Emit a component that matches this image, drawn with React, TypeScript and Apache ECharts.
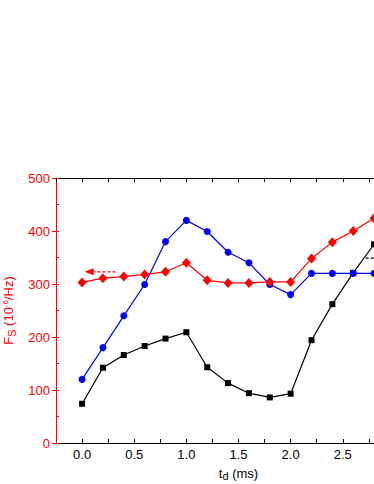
import React, { useEffect, useRef } from "react";
import * as echarts from "echarts";

const tdValues = [0, 0.2, 0.4, 0.6, 0.8, 1.0, 1.2, 1.4, 1.6, 1.8, 2.0, 2.2, 2.4, 2.6, 2.8];
const blackSquares = [74, 142, 166, 183, 197, 209, 143, 113, 94, 86, 93, 194, 262, 321, 375];
const blueCircles = [120, 180, 240, 299, 380, 420, 399, 360, 340, 299, 280, 320, 320, 320, 320];
const redDiamonds = [303, 311, 314, 318, 323, 340, 307, 302, 302, 304, 304, 348, 379, 400, 424];
const redArrow = [[0.32, 323], [0.067, 323]];
const blackArrow = [[2.72, 349], [3.0, 349]];

const pair = (ys: number[]) => tdValues.map((x, i) => [x, ys[i]]);

export default function App() {
  const ref = useRef<HTMLDivElement>(null);
  useEffect(() => {
    if (!ref.current) return;
    const chart = echarts.init(ref.current, undefined, { renderer: "svg" });
    const font = "Liberation Sans, Arial, sans-serif";
    chart.setOption({
      animation: false,
      grid: { left: 56, top: 178, width: 365, height: 265, containLabel: false, outerBoundsMode: "none" },
      xAxis: [
        {
          type: "value",
          min: -0.25,
          max: 3.25,
          interval: 0.25,
          position: "bottom",
          name: "{t|t}{sub|d}{t| (ms)}",
          nameLocation: "middle",
          nameGap: 22,
          nameTextStyle: {
            rich: {
              t: { fontSize: 13, color: "#000", fontFamily: font },
              sub: { fontSize: 11, color: "#000", fontFamily: font, padding: [5, 0, 0, 0] },
            },
          },
          axisLine: { show: true, onZero: false, lineStyle: { color: "#000", width: 1 } },
          axisTick: { show: true, inside: true, length: 4, lineStyle: { color: "#000" } },
          axisLabel: {
            margin: 5,
            fontSize: 13,
            color: "#000",
            fontFamily: font,
            showMinLabel: false,
            showMaxLabel: false,
            formatter: (v: number) => {
              const k = Math.round(v * 4);
              if (k < 0 || k > 11 || k % 2 !== 0) return "";
              return v.toFixed(1);
            },
          },
          splitLine: { show: false },
        },
        {
          type: "value",
          min: -0.25,
          max: 3.25,
          interval: 0.25,
          position: "top",
          axisLine: { show: true, onZero: false, lineStyle: { color: "#000", width: 1 } },
          axisTick: { show: true, inside: true, length: 4, lineStyle: { color: "#000" } },
          axisLabel: { show: false },
          splitLine: { show: false },
        },
      ],
      yAxis: [
        {
          type: "value",
          min: 0,
          max: 500,
          interval: 100,
          position: "left",
          name: "{t|F}{sub|S}{t| (10}{sup|-6}{t|/Hz)}",
          nameLocation: "middle",
          nameGap: 33,
          nameRotate: 90,
          nameTextStyle: {
            rich: {
              t: { fontSize: 13, color: "#ff0000", fontFamily: font },
              sub: { fontSize: 11, color: "#ff0000", fontFamily: font, padding: [6, 0, 0, 0] },
              sup: { fontSize: 8, color: "#ff0000", fontFamily: font, padding: [0, 0, 7, 0] },
            },
          },
          axisLine: { show: true, onZero: false, lineStyle: { color: "#ff0000", width: 1 } },
          axisTick: { show: true, inside: false, length: 4, lineStyle: { color: "#ff0000" } },
          axisLabel: { margin: 6, fontSize: 13, color: "#ff0000", fontFamily: font },
          splitLine: { show: false },
        },
        {
          type: "value",
          min: 0,
          max: 500,
          interval: 50,
          position: "left",
          offset: 0,
          axisLine: { show: false, onZero: false },
          axisTick: { show: true, inside: true, length: 3, lineStyle: { color: "#ff0000" } },
          axisLabel: { show: false },
          splitLine: { show: false },
        },
      ],
      series: [
        {
          type: "line",
          data: pair(blackSquares),
          symbol: "rect",
          symbolSize: 6,
          itemStyle: { color: "#000" },
          lineStyle: { color: "#000", width: 1.2 },
          z: 3,
        },
        {
          type: "line",
          data: pair(blueCircles),
          symbol: "circle",
          symbolSize: 7,
          itemStyle: { color: "#0000ff" },
          lineStyle: { color: "#0000ff", width: 1.2 },
          z: 4,
        },
        {
          type: "line",
          data: pair(redDiamonds),
          symbol: "diamond",
          symbolSize: [9, 10],
          itemStyle: { color: "#ff0000" },
          lineStyle: { color: "#ff0000", width: 1.2 },
          z: 5,
        },
        {
          type: "line",
          data: [
            { value: redArrow[0], symbol: "none" },
            { value: redArrow[1], symbol: "path://M10,0 L0,5 L10,10 Z", symbolSize: [9, 7] },
          ],
          itemStyle: { color: "#ff0000" },
          lineStyle: { color: "#ff0000", width: 1.2, type: [3, 2] },
          z: 6,
        },
        {
          type: "line",
          data: [
            { value: blackArrow[0], symbol: "none" },
            { value: blackArrow[1], symbol: "path://M0,0 L10,5 L0,10 Z", symbolSize: [9, 7] },
          ],
          itemStyle: { color: "#000" },
          lineStyle: { color: "#000", width: 1.2, type: [3, 2] },
          z: 6,
        },
      ],
    });
    return () => chart.dispose();
  }, []);
  return (
    <div
      ref={ref}
      style={{ position: "absolute", left: 0, top: 0, width: 374, height: 484, background: "#fff" }}
    />
  );
}
